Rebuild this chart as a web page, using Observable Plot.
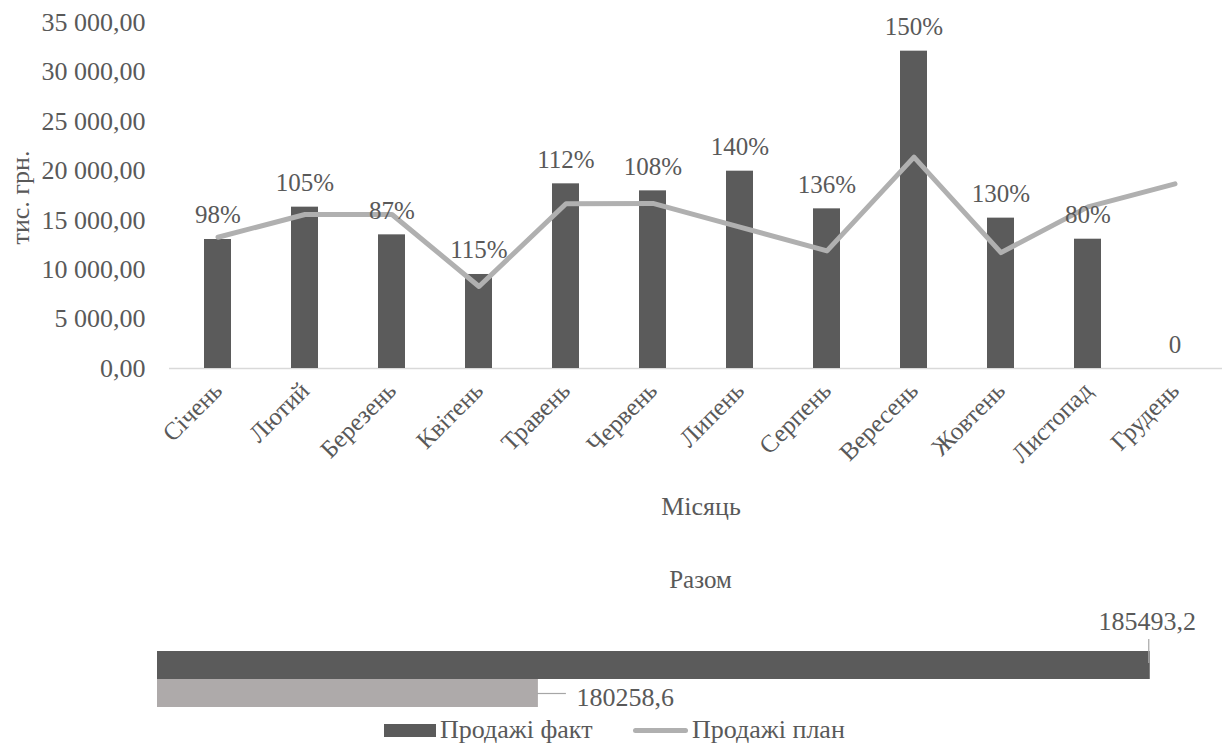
<!DOCTYPE html>
<html>
<head>
<meta charset="utf-8">
<script src="https://cdn.jsdelivr.net/npm/d3@7"></script>
<script src="https://cdn.jsdelivr.net/npm/@observablehq/plot@0.6"></script>
<style>
  body { margin: 0; background: #fff; }
  #wrap { position: relative; width: 1225px; height: 747px; font-family: "Liberation Serif", "Times New Roman", serif; color: #595959; }
  #wrap svg { display: block; }
  #legend { position: absolute; left: 0; top: 718px; width: 1225px; height: 28px; font-size: 26px; }
  .sw { position: absolute; }
  .lt { position: absolute; top: -3px; white-space: nowrap; }
</style>
</head>
<body>
<div id="wrap"></div>
<script>
// ---- data ----
const months = ["Січень", "Лютий", "Березень", "Квітень", "Травень", "Червень", "Липень", "Серпень", "Вересень", "Жовтень", "Листопад", "Грудень"];
const factValues = [13050, 16320, 13520, 9510, 18680, 17970, 19960, 16150, 32100, 15210, 13080, 0];
const planValues = [13280, 15580, 15580, 8300, 16660, 16700, 14300, 11900, 21380, 11720, 16350, 18680];
const pctLabels = ["98%", "105%", "87%", "115%", "112%", "108%", "140%", "136%", "150%", "130%", "80%", "0"];
const yTicks = [0, 5000, 10000, 15000, 20000, 25000, 30000, 35000];
const totalSeries = ["Продажі факт", "Продажі план"];
const totalValues = [185493.2, 180258.6];
const totalLabels = ["185493,2", "180258,6"];
const yTitle = "тис. грн.";
const xTitle = "Місяць";
const totalTitle = "Разом";

const FACT = "#5b5b5b", PLAN = "#b0b0b0", PLANBAR = "#aeaaaa", TXT = "#595959";
const FONT = "Liberation Serif, Times New Roman, serif";

const rows = months.map((m, i) => ({month: m, fact: factValues[i], plan: planValues[i], pct: pctLabels[i]}));
const totals = totalSeries.map((s, i) => ({series: s, value: totalValues[i], label: totalLabels[i]}));
const fmt = d3.formatLocale({decimal: ",", thousands: "\u00a0", grouping: [3], currency: ["", ""]}).format(",.2f");

const wrap = document.getElementById("wrap");

const main = Plot.plot({
  width: 1225, height: 530,
  marginLeft: 169, marginRight: 3, marginTop: 22, marginBottom: 162,
  style: {fontFamily: FONT, fontSize: "25px", color: TXT, background: "white", overflow: "visible"},
  x: {type: "band", domain: months, paddingInner: 0, paddingOuter: 0, axis: null},
  y: {domain: [0, 35000], axis: null},
  marks: [
    Plot.axisY({ticks: yTicks, tickSize: 0, tickPadding: 24, tickFormat: fmt, label: null, fontSize: 26, fontFamily: FONT}),
    Plot.axisX({tickRotate: -45, tickSize: 0, tickPadding: 18, label: null, fontSize: 25, fontFamily: FONT}),
    Plot.ruleY([0], {stroke: "#d9d9d9", strokeWidth: 1.5}),
    Plot.barY(rows, {x: "month", y: "fact", fill: FACT, insetLeft: 30, insetRight: 30}),
    Plot.line(rows, {x: "month", y: "plan", stroke: PLAN, strokeWidth: 5, strokeLinejoin: "round"}),
    Plot.text(rows, {x: "month", y: "fact", text: "pct", dy: -24, fontSize: 25, fontFamily: FONT, fill: TXT}),
    Plot.text([yTitle], {text: d => d, frameAnchor: "left", textAnchor: "middle", dx: -149, dy: 2, rotate: -90, fontSize: 26, fontFamily: FONT, fill: TXT}),
    Plot.text([xTitle], {text: d => d, frameAnchor: "bottom", dx: 5, dy: 146, fontSize: 26, fontFamily: FONT, fill: TXT})
  ]
});
wrap.appendChild(main);

const factRow = totals.filter(d => d.series === totalSeries[0]);
const planRow = totals.filter(d => d.series === totalSeries[1]);

const bottom = Plot.plot({
  width: 1225, height: 217,
  marginLeft: 157, marginRight: 16, marginTop: 120, marginBottom: 40,
  style: {fontFamily: FONT, fontSize: "26px", color: TXT, background: "white", overflow: "visible"},
  x: {domain: [177000, 186000], axis: null},
  y: {type: "band", domain: totalSeries, paddingInner: 0, paddingOuter: 0, axis: null},
  color: {domain: totalSeries, range: [FACT, PLANBAR]},
  marks: [
    Plot.barX(totals, {x: "value", y: "series", fill: "series", clip: true}),
    Plot.tickX(factRow, {x: "value", y: "series", insetTop: -12, insetBottom: 16, dx: -1.5, stroke: "#a6a6a6", strokeWidth: 1.2}),
    Plot.ruleY(planRow, {y: "series", x1: "value", x2: "value", insetLeft: -1, insetRight: -28, stroke: "#a6a6a6", strokeWidth: 1.2}),
    Plot.text(factRow, {x: "value", y: "series", text: "label", dx: -3, dy: -44, fontSize: 26, fontFamily: FONT, fill: TXT}),
    Plot.text(planRow, {x: "value", y: "series", text: "label", textAnchor: "start", dx: 38, dy: 4, fontSize: 26, fontFamily: FONT, fill: TXT}),
    Plot.text([totalTitle], {text: d => d, frameAnchor: "top", dx: 17, dy: -80, fontSize: 25, fontFamily: FONT, fill: TXT})
  ]
});
wrap.appendChild(bottom);

// legend
const legend = document.createElement("div");
legend.id = "legend";
legend.innerHTML =
  `<div class="sw" style="left:384px;top:6px;width:52px;height:13px;background:${FACT}"></div>` +
  `<div class="lt" style="left:440px">${totalSeries[0]}</div>` +
  `<div class="sw" style="left:633px;top:10px;width:55px;height:5px;border-radius:3px;background:${PLAN}"></div>` +
  `<div class="lt" style="left:692px">${totalSeries[1]}</div>`;
wrap.appendChild(legend);
</script>
</body>
</html>
